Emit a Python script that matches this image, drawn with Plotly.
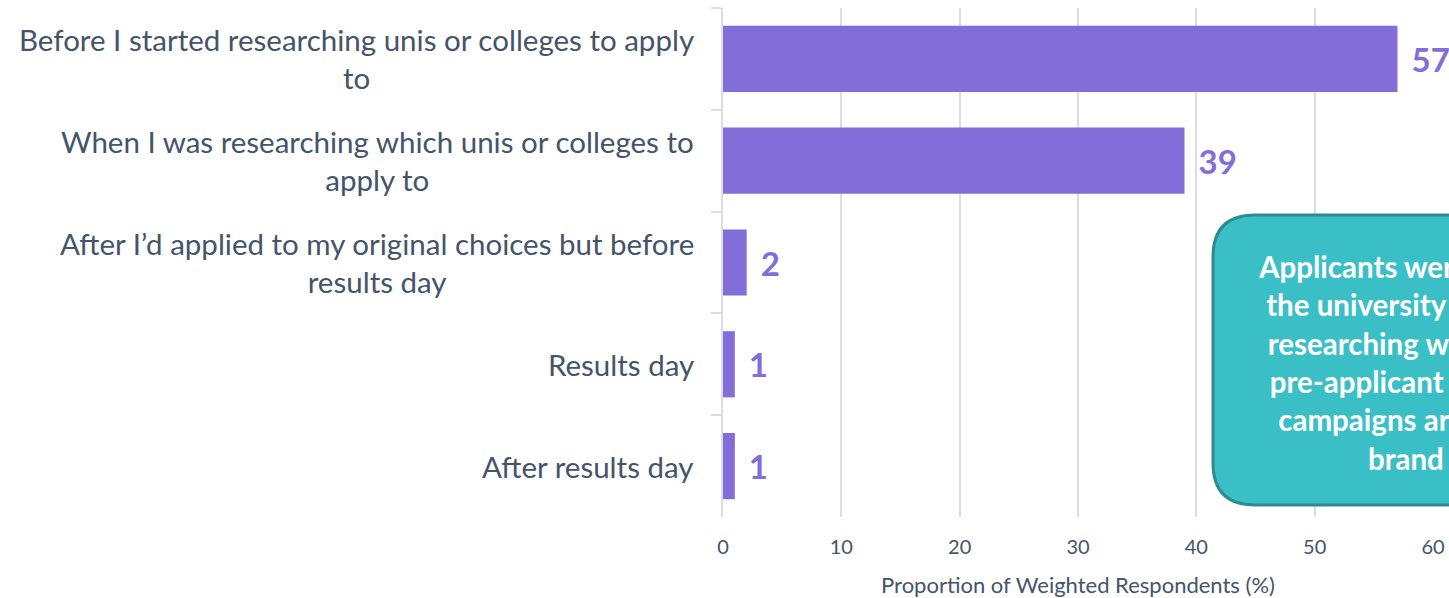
import plotly.graph_objects as go

categories = [
    "Before I started researching unis or colleges to apply<br>to",
    "When I was researching which unis or colleges to<br>apply to",
    "After I’d applied to my original choices but before<br>results day",
    "Results day",
    "After results day",
]
values = [57, 39, 2, 1, 1]

callout_lines = [
    "Applicants were aware of it,",
    "the university before even,",
    "researching where to look,",
    "pre-applicant marketing &",
    "campaigns are crucial for",
    "brand trust",
]

BAR = "#836DD8"
TEXT = "#44546A"
GRID = "#DADCE8"

W, H = 1449, 598
ML, MR, MT, MB = 723, 16, 8, 81
PW, PH = W - ML - MR, H - MT - MB


def px(xp):
    # page pixel -> paper x
    return (xp - ML) / PW


def py(yp):
    # page pixel -> paper y
    return (H - MB - yp) / PH


fig = go.Figure()

fig.add_trace(
    go.Bar(
        x=values,
        y=categories,
        orientation="h",
        marker=dict(color=BAR, line=dict(width=0)),
        width=0.65,
        texttemplate="\u2004%{x}",
        textposition="outside",
        textfont=dict(family="Lato", size=33, color=BAR, weight="bold"),
        constraintext="none",
        cliponaxis=False,
        hoverinfo="skip",
    )
)

# category labels, centred lines like the original
for cat in categories:
    fig.add_annotation(
        x=0, xref="paper", xanchor="right", xshift=-27,
        y=cat, yref="y", yanchor="middle",
        text=cat,
        showarrow=False, align="center",
        font=dict(family="Lato", size=29.5, color=TEXT),
    )

# rounded call-out box (runs off the right edge)
x0, x1, y0, y1, r = 1213, 1668, 215, 505, 42
rx, ry = r / PW, r / PH
path = (
    f"M {px(x0)+rx},{py(y0)} L {px(x1)-rx},{py(y0)} "
    f"Q {px(x1)},{py(y0)} {px(x1)},{py(y0)-ry} "
    f"L {px(x1)},{py(y1)+ry} Q {px(x1)},{py(y1)} {px(x1)-rx},{py(y1)} "
    f"L {px(x0)+rx},{py(y1)} Q {px(x0)},{py(y1)} {px(x0)},{py(y1)+ry} "
    f"L {px(x0)},{py(y0)-ry} Q {px(x0)},{py(y0)} {px(x0)+rx},{py(y0)} Z"
)
fig.add_shape(
    type="path", path=path, xref="paper", yref="paper",
    fillcolor="#3BBFC6", line=dict(color="#2E8C91", width=3), layer="above",
)
fig.add_annotation(
    x=px(1440), xref="paper", y=py(362), yref="paper",
    xanchor="center", yanchor="middle",
    text="<br>".join(callout_lines),
    showarrow=False, align="center",
    font=dict(family="Lato", size=29.5, color="white", weight="bold"),
)

fig.update_layout(
    width=W,
    height=H,
    margin=dict(l=ML, r=MR, t=MT, b=MB, pad=0),
    paper_bgcolor="white",
    plot_bgcolor="white",
    showlegend=False,
    bargap=0.35,
    font=dict(family="Lato", color=TEXT),
)
fig.update_xaxes(
    range=[0, 60],
    dtick=10,
    automargin=False,
    showgrid=True,
    gridcolor=GRID,
    gridwidth=2,
    zeroline=False,
    showline=False,
    ticks="outside",
    ticklen=12,
    tickcolor="rgba(0,0,0,0)",
    tickfont=dict(size=20, color=TEXT),
    title=dict(text="Proportion of Weighted Respondents (%)",
               font=dict(size=22, color=TEXT), standoff=23),
)
fig.update_yaxes(
    autorange="reversed",
    automargin=False,
    showticklabels=False,
    showline=True,
    linecolor=GRID,
    linewidth=2,
    ticks="outside",
    tickson="boundaries",
    ticklen=10,
    tickcolor=GRID,
    tickwidth=2,
    showgrid=False,
)

# drop the default body margin so the figure fills the window exactly
fig.write_html(
    "out.html",
    config={"displayModeBar": False},
    post_script="document.body.style.margin='0';",
)
